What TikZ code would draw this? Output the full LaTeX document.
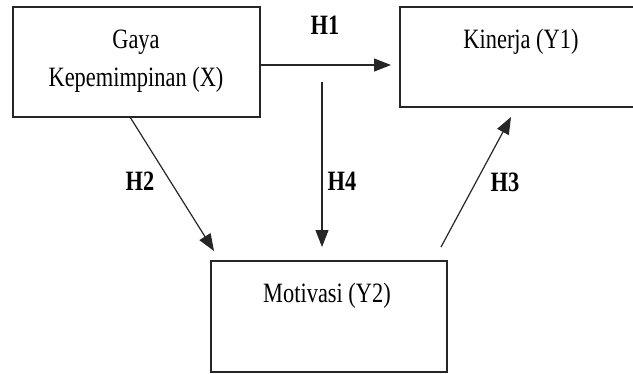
\documentclass[tikz,border=0pt]{standalone}
\usepackage{fontspec}
\newfontfamily\tnr[FakeStretch=0.8]{Liberation Serif}
\usetikzlibrary{arrows.meta}
\begin{document}
\begin{tikzpicture}[x=1bp,y=-1bp,
  box/.style={draw=black!85, line width=1.4bp, inner sep=0, outer sep=0},
  txt/.style={font=\tnr\fontsize{28bp}{38bp}\selectfont, inner sep=0, align=center, anchor=base},
  hyp/.style={font=\tnr\bfseries\fontsize{28bp}{30bp}\selectfont, inner sep=0, anchor=base},
  arr/.style={draw=black!85, line width=1.2bp, -{Triangle[length=17bp,width=13bp]}}]
\useasboundingbox (0,0) rectangle (633,373);
\node[box, minimum width=247bp, minimum height=110bp] (x) at (136.5,62) {};
\node[box, minimum width=250bp, minimum height=100bp] (y1) at (525,57) {};
\node[box, minimum width=236bp, minimum height=111bp] (y2) at (329,316.5) {};
\node[txt] (xt1) at (136,48) {Gaya};
\node[txt] (xt2) at (136,86) {Kepemimpinan (X)};
\node[txt] (y1t) at (521,48) {Kinerja (Y1)};
\node[txt] (y2t) at (327,302) {Motivasi (Y2)};
\coordinate (h1s) at (260,65);
\coordinate (h1e) at (391,65);
\coordinate (h2s) at (130,117);
\coordinate (h2e) at (214,251);
\coordinate (h4s) at (322,82);
\coordinate (h4e) at (322,247);
\coordinate (h3s) at (441,247);
\coordinate (h3e) at (511,117);
\draw[arr] (h1s) -- (h1e);
\draw[arr] (h2s) -- (h2e);
\draw[arr] (h4s) -- (h4e);
\draw[arr] (h3s) -- (h3e);
\node[hyp] (l1) at (325,34) {H1};
\node[hyp] (l2) at (140,190) {H2};
\node[hyp] (l4) at (342,190) {H4};
\node[hyp] (l3) at (505,191) {H3};
\end{tikzpicture}
\end{document}
